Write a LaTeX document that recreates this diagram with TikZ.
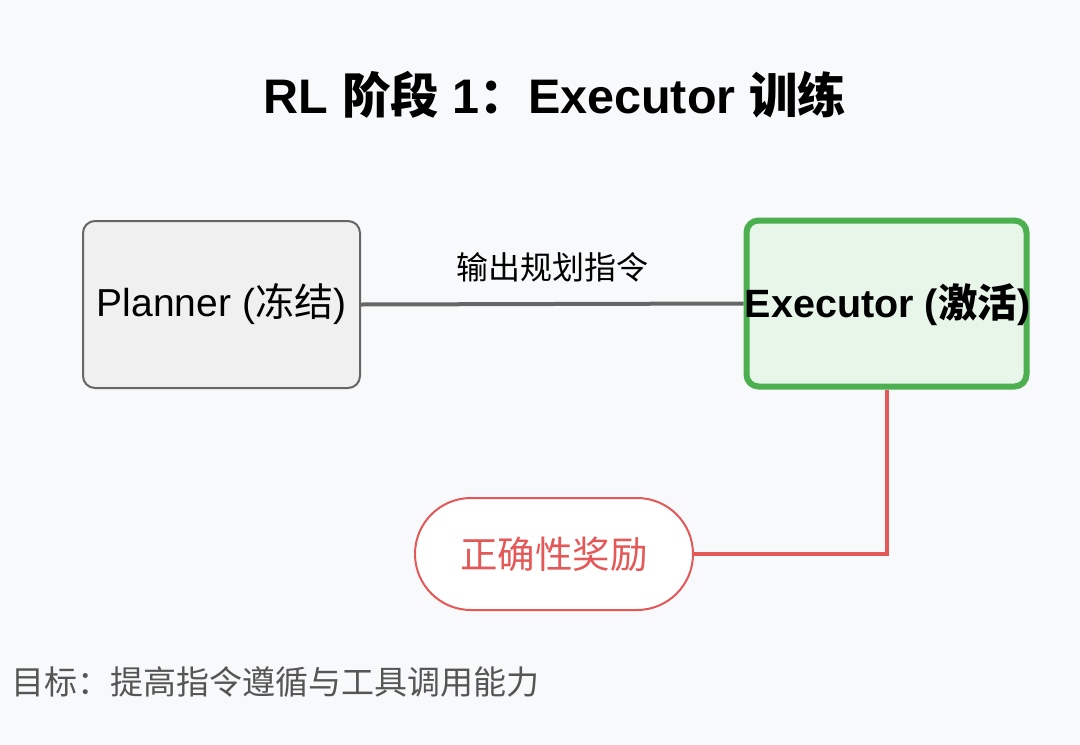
\documentclass[tikz,border=0pt]{standalone}
\usepackage{fontspec}
\setmainfont{Liberation Sans}
\newfontfamily\cjk{Noto Sans CJK SC}
\usetikzlibrary{positioning}
\definecolor{bg}{RGB}{248,249,250}
\definecolor{graystroke}{RGB}{102,102,102}
\definecolor{grayfill}{RGB}{240,240,240}
\definecolor{greenstroke}{RGB}{76,175,80}
\definecolor{greenfill}{RGB}{232,245,233}
\definecolor{redc}{RGB}{228,88,88}
\definecolor{txtgray}{RGB}{85,85,85}
\tikzset{
  planbox/.style={draw=graystroke, line width=2pt, fill=grayfill, rounded corners=12pt, minimum width=277pt, minimum height=167pt, inner sep=0pt},
  execbox/.style={draw=greenstroke, line width=6pt, fill=greenfill, rounded corners=12pt, minimum width=280pt, minimum height=166pt, inner sep=0pt},
  pill/.style={draw=redc, line width=2pt, fill=white, rounded corners=56pt, minimum width=278pt, minimum height=112pt, inner sep=0pt},
  conn/.style={draw=graystroke, line width=4pt},
  redconn/.style={draw=redc, line width=4pt},
}
\begin{document}
\begin{tikzpicture}[x=1pt,y=-1pt]
\fill[bg] (0,0) rectangle (1080,745);
\useasboundingbox (0,0) rectangle (1080,745);
\node (title) at (555,95) {\fontsize{48.5}{52}\selectfont\bfseries RL {\cjk 阶段} 1{\cjk ：}Executor {\cjk 训练}};
\node[planbox] (planner) at (221.5,304.5) {\fontsize{39}{42}\selectfont Planner ({\cjk 冻结})};
\node[execbox] (executor) at (886.5,303.5) {};
\node (exectext) at (887.5,305) {\fontsize{39.5}{42}\selectfont\bfseries Executor ({\cjk\bfseries 激活})};
\node[pill] (reward) at (554,554) {\fontsize{37.5}{40}\selectfont\color{redc}\cjk 正确性奖励};
\draw[conn] (planner.east) -- (executor.west) node[midway, above=16pt] (lbl) {\fontsize{32}{35}\selectfont\cjk 输出规划指令};
\coordinate (corner) at (executor.south |- reward.east);
\draw[redconn] (executor.south) -- (corner) -- (reward.east);
\node[anchor=west, text=txtgray] (goal) at (8,682) {\fontsize{33}{36}\selectfont\cjk 目标：提高指令遵循与工具调用能力};
\end{tikzpicture}
\end{document}
